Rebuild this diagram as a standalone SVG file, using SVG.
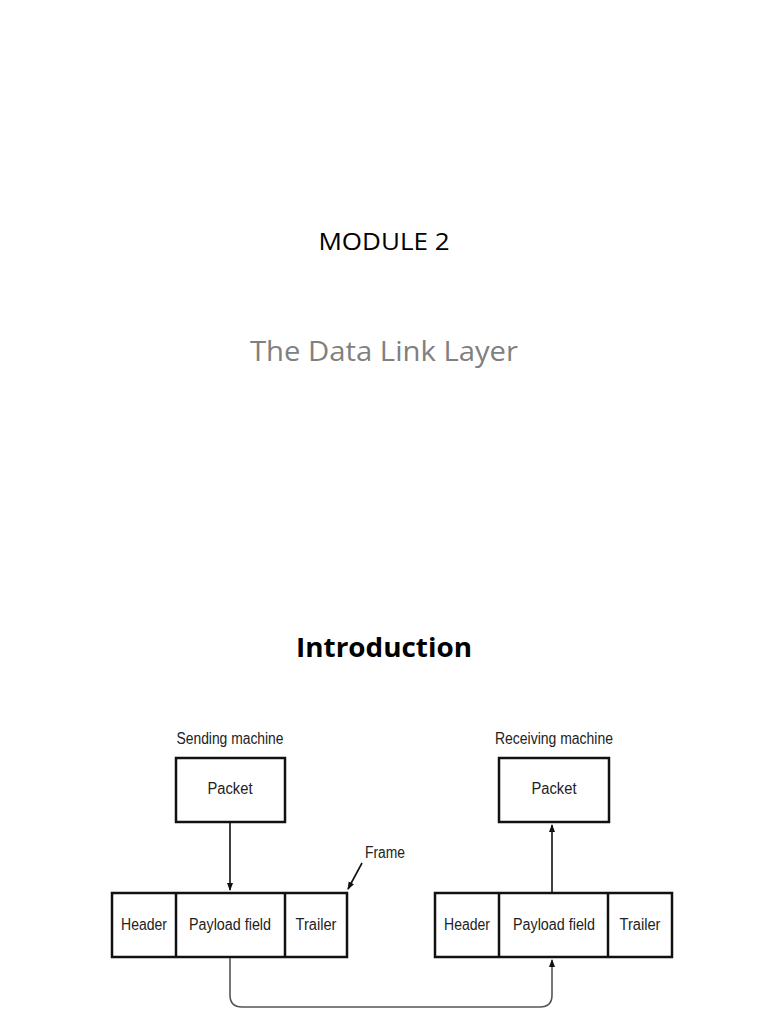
<svg xmlns="http://www.w3.org/2000/svg" width="768" height="1024" viewBox="0 0 768 1024">
<style>
.t{font-family:"Open Sans","Noto Sans",sans-serif;text-anchor:middle}
.l{font-family:"Liberation Sans",Arial,sans-serif;font-size:16px;fill:#222;text-anchor:middle}
.b{fill:#fff;stroke:#111;stroke-width:2.5}
.c{fill:none;stroke:#111;stroke-width:1.6}
.g{fill:none;stroke:#555;stroke-width:1.6}
</style>
<defs>
<marker id="ah" markerWidth="8" markerHeight="10" refX="7" refY="4" orient="auto" markerUnits="userSpaceOnUse" viewBox="0 0 8 8">
<path d="M0,1 L8,4 L0,7 Z" fill="#111"/>
</marker>
</defs>
<rect width="768" height="1024" fill="#fff"/>
<text class="t" x="384" y="250" font-size="24" fill="#000" textLength="131" lengthAdjust="spacingAndGlyphs">MODULE 2</text>
<text class="t" x="384" y="361" font-size="28" fill="#808080" textLength="268" lengthAdjust="spacingAndGlyphs">The Data Link Layer</text>
<text class="t" x="384" y="657" font-size="27" font-weight="bold" fill="#000" textLength="176" lengthAdjust="spacingAndGlyphs">Introduction</text>

<g id="send-label"><text class="l" x="230" y="744" textLength="107" lengthAdjust="spacingAndGlyphs">Sending machine</text></g>
<g id="send-packet"><rect class="b" x="176" y="758" width="109" height="64"/><text class="l" x="230" y="794" textLength="45" lengthAdjust="spacingAndGlyphs">Packet</text></g>
<g id="recv-label"><text class="l" x="554" y="744" textLength="118" lengthAdjust="spacingAndGlyphs">Receiving machine</text></g>
<g id="recv-packet"><rect class="b" x="499" y="758" width="110" height="64"/><text class="l" x="554" y="794" textLength="45" lengthAdjust="spacingAndGlyphs">Packet</text></g>
<g id="frame-label"><text class="l" x="385" y="858" textLength="40" lengthAdjust="spacingAndGlyphs">Frame</text></g>

<g id="left-frame">
<rect class="b" x="112" y="893" width="235" height="64"/>
<line class="b" x1="176" y1="893" x2="176" y2="957"/>
<line class="b" x1="285" y1="893" x2="285" y2="957"/>
<text class="l" x="144" y="930" textLength="46" lengthAdjust="spacingAndGlyphs">Header</text>
<text class="l" x="230" y="930" textLength="82" lengthAdjust="spacingAndGlyphs">Payload field</text>
<text class="l" x="316" y="930" textLength="41" lengthAdjust="spacingAndGlyphs">Trailer</text>
</g>
<g id="right-frame">
<rect class="b" x="435" y="893" width="237" height="64"/>
<line class="b" x1="499" y1="893" x2="499" y2="957"/>
<line class="b" x1="608" y1="893" x2="608" y2="957"/>
<text class="l" x="467" y="930" textLength="46" lengthAdjust="spacingAndGlyphs">Header</text>
<text class="l" x="554" y="930" textLength="82" lengthAdjust="spacingAndGlyphs">Payload field</text>
<text class="l" x="640" y="930" textLength="41" lengthAdjust="spacingAndGlyphs">Trailer</text>
</g>

<g id="connectors">
<line class="c" x1="230" y1="823" x2="230" y2="890" marker-end="url(#ah)"/>
<line class="c" x1="552" y1="893" x2="552" y2="825" marker-end="url(#ah)"/>
<line class="c" x1="362" y1="863" x2="348" y2="889" marker-end="url(#ah)"/>
<path class="g" d="M230,958 L230,995 Q230,1007 242,1007 L540,1007 Q552,1007 552,995 L552,960" marker-end="url(#ah)"/>
</g>
</svg>
